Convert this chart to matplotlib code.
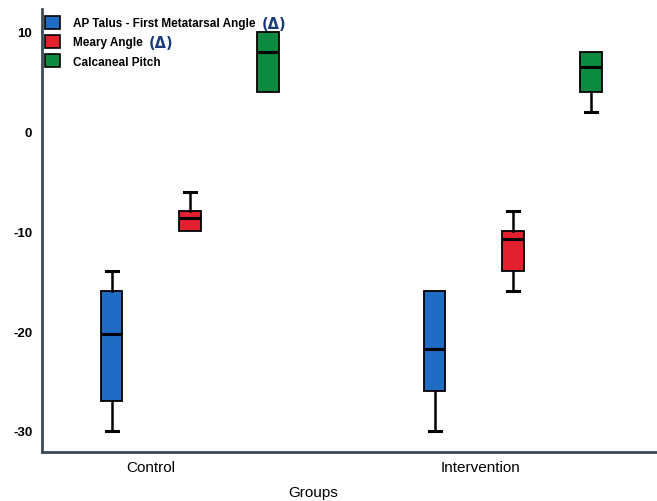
import matplotlib
matplotlib.use('Agg')
import matplotlib.pyplot as plt
from matplotlib.patches import Patch

groups = ['Control', 'Intervention']
measures = ['AP Talus - First Metatarsal Angle', 'Meary Angle', 'Calcaneal Pitch']
delta = [True, True, False]
colors = ['#1f6cc4', '#e3202d', '#0b8a40']

# whisker low, box low, median, box high, whisker high
control = [
    [-30, -27, -20.3, -16, -14],
    [-10, -10, -8.7, -8, -6],
    [4, 4, 8, 10, 10],
]
intervention = [
    [-30, -26, -21.8, -16, -16],
    [-16, -14, -10.8, -10, -8],
    [2, 4, 6.5, 8, 8],
]

plt.rcParams['font.family'] = ['Liberation Sans', 'DejaVu Sans']
fig = plt.figure(figsize=(6.57, 5.02), dpi=100)
ax = fig.add_axes([0.064, 0.098, 0.936, 0.882])

offsets = [-0.242, 0, 0.242]
for g, data in enumerate([control, intervention]):
    for m, vals in enumerate(data):
        st = dict(whislo=vals[0], q1=vals[1], med=vals[2], q3=vals[3], whishi=vals[4], fliers=[])
        pos = g + offsets[m]
        b = ax.bxp([st], positions=[pos], widths=0.066, patch_artist=True,
                   showfliers=False, manage_ticks=False, capwidths=0.038,
                   boxprops=dict(facecolor=colors[m], edgecolor='black', linewidth=1.3),
                   medianprops=dict(color='black', linewidth=2.2),
                   whiskerprops=dict(color='black', linewidth=1.8),
                   capprops=dict(color='black', linewidth=2.2))
        for i, cap in enumerate(b['caps']):
            lo = vals[0] == vals[1] if i == 0 else vals[4] == vals[3]
            if lo:
                cap.set_visible(False)

ax.set_xlim(-0.458, 1.446)
ax.set_ylim(-32.1, 12.3)
ax.set_yticks([-30, -20, -10, 0, 10])
ax.set_yticklabels(['-30', '-20', '-10', '0', '10'], fontweight='bold', fontsize=9.5)
ax.set_xticks([-0.12, -0.1 + 1])
ax.set_xticklabels(groups, fontsize=11)
ax.tick_params(length=0, pad=6)
ax.tick_params(axis='y', pad=7)
fig.text(313 / 657, 5 / 502, 'Groups', fontsize=11, ha='center', va='baseline')
for s in ['top', 'right']:
    ax.spines[s].set_visible(False)
for s in ['left', 'bottom']:
    ax.spines[s].set_color('#3b4a56')
    ax.spines[s].set_linewidth(2)

handles = [Patch(facecolor=c, edgecolor='black', linewidth=1.2) for c in colors]
leg = ax.legend(handles, measures, loc='upper left', bbox_to_anchor=(-0.012, 1.008),
                frameon=False, prop=dict(weight='bold', size=8.5),
                handlelength=1.25, handleheight=1.25, handletextpad=1.1, labelspacing=0.5)

fig.canvas.draw()
inv = fig.transFigure.inverted()
for txt, d in zip(leg.get_texts(), delta):
    if d:
        bb = txt.get_window_extent()
        x, y = inv.transform((bb.x1 + 6, (bb.y0 + bb.y1) / 2))
        fig.text(x, y, '(\u0394)', color='#1a3a7a', fontsize=10.5, fontweight='bold',
                 va='center', ha='left', family='DejaVu Sans')

fig.savefig('out.png', dpi=100)
